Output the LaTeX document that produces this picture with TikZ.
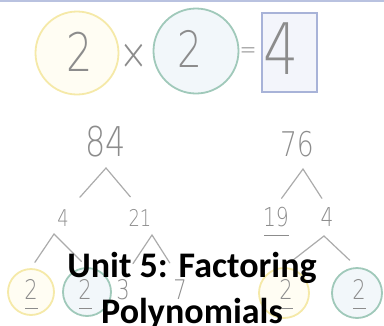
\documentclass[tikz,border=0pt]{standalone}
\usepackage{fontspec}
\setmainfont{Carlito}
\newfontfamily\hand[FakeStretch=0.78]{DejaVu Sans ExtraLight}
\usetikzlibrary{positioning}
\definecolor{pencil}{HTML}{8C8C8C}
\definecolor{lead}{HTML}{ABABAB}
\definecolor{sun}{HTML}{F5E9A8}
\definecolor{sunfill}{HTML}{FFFDF3}
\definecolor{sea}{HTML}{A0C9BA}
\definecolor{seafill}{HTML}{F2F7FA}
\definecolor{slate}{HTML}{A8B3D8}
\definecolor{slatefill}{HTML}{F3F5FB}
\tikzset{
  digit/.style={text=pencil, inner sep=1pt,
    font=\hand\fontsize{#1}{#1}\selectfont},
  sunring/.style={circle, draw=sun, fill=sunfill,
    line width=1.8pt, inner sep=0pt},
  searing/.style={circle, draw=sea, fill=seafill,
    line width=1.8pt, inner sep=0pt},
  answer/.style={rectangle, draw=slate, fill=slatefill,
    line width=1.8pt, inner sep=0pt,
    minimum width=55pt, minimum height=79pt},
  branch/.style={draw=lead, line width=1.2pt, line cap=round},
  underbar/.style={draw=pencil, line width=1pt},
  title/.style={font=\fontsize{36}{46}\selectfont\bfseries,
    align=center, inner sep=0pt},
}

\begin{document}
\begin{tikzpicture}[x=1pt, y=-1pt]
\useasboundingbox (0,0) rectangle (384,325);
\clip (0,0) rectangle (384,325);
\fill[slate!80] (0,0) rectangle (384,2);

% 2 x 2 = 4
\node (c1) [sunring, minimum size=83pt] at (77,53) {};
\node (d1) [digit=53] at (80,52) {2};
\node (times) [digit=44] at (134,57) {×};
\node (c2) [searing, minimum size=85pt] at (196,51) {};
\node (d2) [digit=50] at (190,49) {2};
\node (eq) [digit=26] at (248,53) {=};
\node (box) [answer] at (289.5,52.5) {};
\node (d4) [digit=71] at (281,49) {4};

% Tree of 84
\node (p84) [digit=41] at (106,142) {84};
\coordinate (t84) at (106,168);
\node (n4) [digit=23] at (63,218) {4};
\node (n21) [digit=23] at (140,218) {21};
\draw[branch, shorten <=15pt, shorten >=15pt]
  (n4.north east) -- (t84) -- (n21.north);

\coordinate (t4) at (54,234);
\node (b1) [sunring, minimum size=46pt] at (31,292) {};
\node (b1d) [digit=27] at (31,289) {2};
\node (b2) [searing, minimum size=48pt] at (87,292) {};
\node (b2d) [digit=27] at (85,289) {2};
\draw[branch, shorten <=7pt, shorten >=8pt]
  (b1.north) -- (t4) -- (b2.north);
\draw[underbar] ([shift={(-6,8)}]b1d.south) -- ([shift={(7,8)}]b1d.south);
\draw[underbar] ([shift={(-6,8)}]b2d.south) -- ([shift={(7,8)}]b2d.south);

\coordinate (t21) at (152,235);
\node (n3) [digit=27] at (123,290) {3};
\node (n7) [digit=27] at (180,290) {7};
\draw[branch, shorten <=18pt, shorten >=19pt]
  (n3.north) -- (t21) -- (n7.north);

% Tree of 76
\node (p76) [digit=34] at (297,144) {76};
\coordinate (t76) at (303,169);
\node (n19) [digit=26] at (276,217) {19};
\node (n4b) [digit=26] at (327,217) {4};
\draw[branch, shorten <=9.5pt, shorten >=9.5pt]
  (n19.north) -- (t76) -- (n4b.north);
\draw[underbar] ([shift={(-12,7)}]n19.south) -- ([shift={(13,7)}]n19.south);

\coordinate (t4b) at (324,236);
\node (b3) [sunring, minimum size=50pt] at (284,293) {};
\node (b3d) [digit=27] at (286,289) {2};
\node (b4) [searing, minimum size=50pt] at (357,293) {};
\node (b4d) [digit=27] at (359,289) {2};
\draw[branch, shorten <=10pt, shorten >=10pt]
  (b3.north) -- (t4b) -- (b4.north);
\draw[underbar] ([shift={(-6,8)}]b3d.south) -- ([shift={(7,8)}]b3d.south);
\draw[underbar] ([shift={(-6,8)}]b4d.south) -- ([shift={(7,8)}]b4d.south);

% Title
\node (title) [title] at (192,290.5) {Unit 5: Factoring\\Polynomials};

\end{tikzpicture}
\end{document}
